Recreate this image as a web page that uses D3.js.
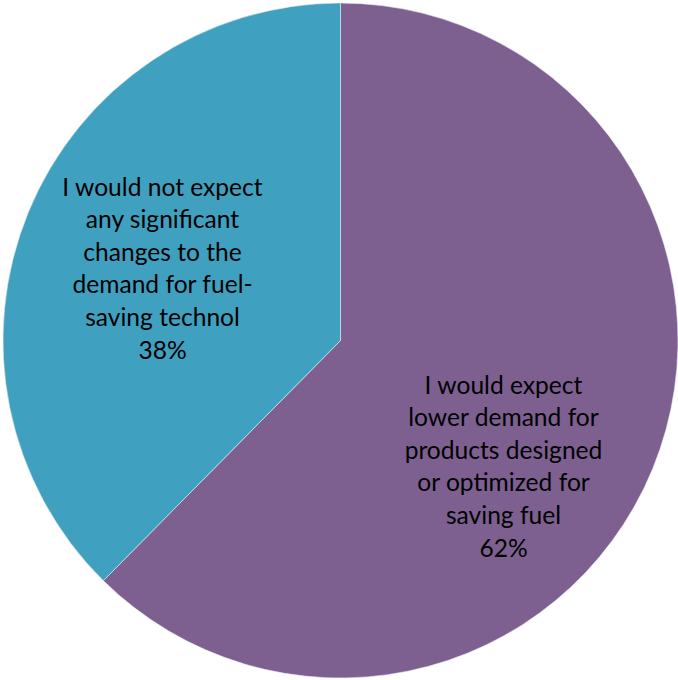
<!DOCTYPE html>
<html><head><meta charset="utf-8">
<script src="https://cdn.jsdelivr.net/npm/d3@7"></script>
<style>body{margin:0;background:#fff}</style>
</head><body>
<svg id="c" width="678" height="680"></svg>
<script>
const categories = ["I would expect lower demand for products designed or optimized for saving fuel", "I would not expect any significant changes to the demand for fuel-saving technol"];
const labelLines = [
  ["I would expect","lower demand for","products designed","or optimized for","saving fuel"],
  ["I would not expect","any significant","changes to the","demand for fuel-","saving technol"]
];
const values = [62.4, 37.6];
const colors = ["#7D6090", "#3FA0C0"];

const W = 678, H = 680, cx = 340.5, cy = 340.5, R = 337.5;
const svg = d3.select("#c");
const g = svg.append("g").attr("transform", `translate(${cx},${cy})`);
const pie = d3.pie().sort(null).value(d => d)(values);
const arc = d3.arc().innerRadius(0).outerRadius(R);
g.selectAll("path").data(pie).join("path")
  .attr("d", arc).attr("fill", (d,i) => colors[i])
  .attr("stroke", "#e8eef4").attr("stroke-width", 0.6);

// label anchor points (best-fit style, relative to centre)
const labelPos = [
  {x: 163, y: 126},
  {x: -178, y: -72}
];
const fs = 24.6, lh = 32.6;
pie.forEach((d, i) => {
  const lines = labelLines[i].concat([Math.round(d.value / d3.sum(values) * 100) + "%"]);
  const p = labelPos[i];
  const t = g.append("text").attr("text-anchor", "middle")
    .attr("font-family", "Lato, 'Open Sans', sans-serif").attr("font-size", fs).attr("fill", "#000");
  const y0 = p.y - (lines.length - 1) * lh / 2;
  lines.forEach((l, k) => {
    t.append("tspan").attr("x", p.x).attr("y", y0 + k * lh).attr("dy", "0.35em").text(l);
  });
});
</script>
</body></html>
